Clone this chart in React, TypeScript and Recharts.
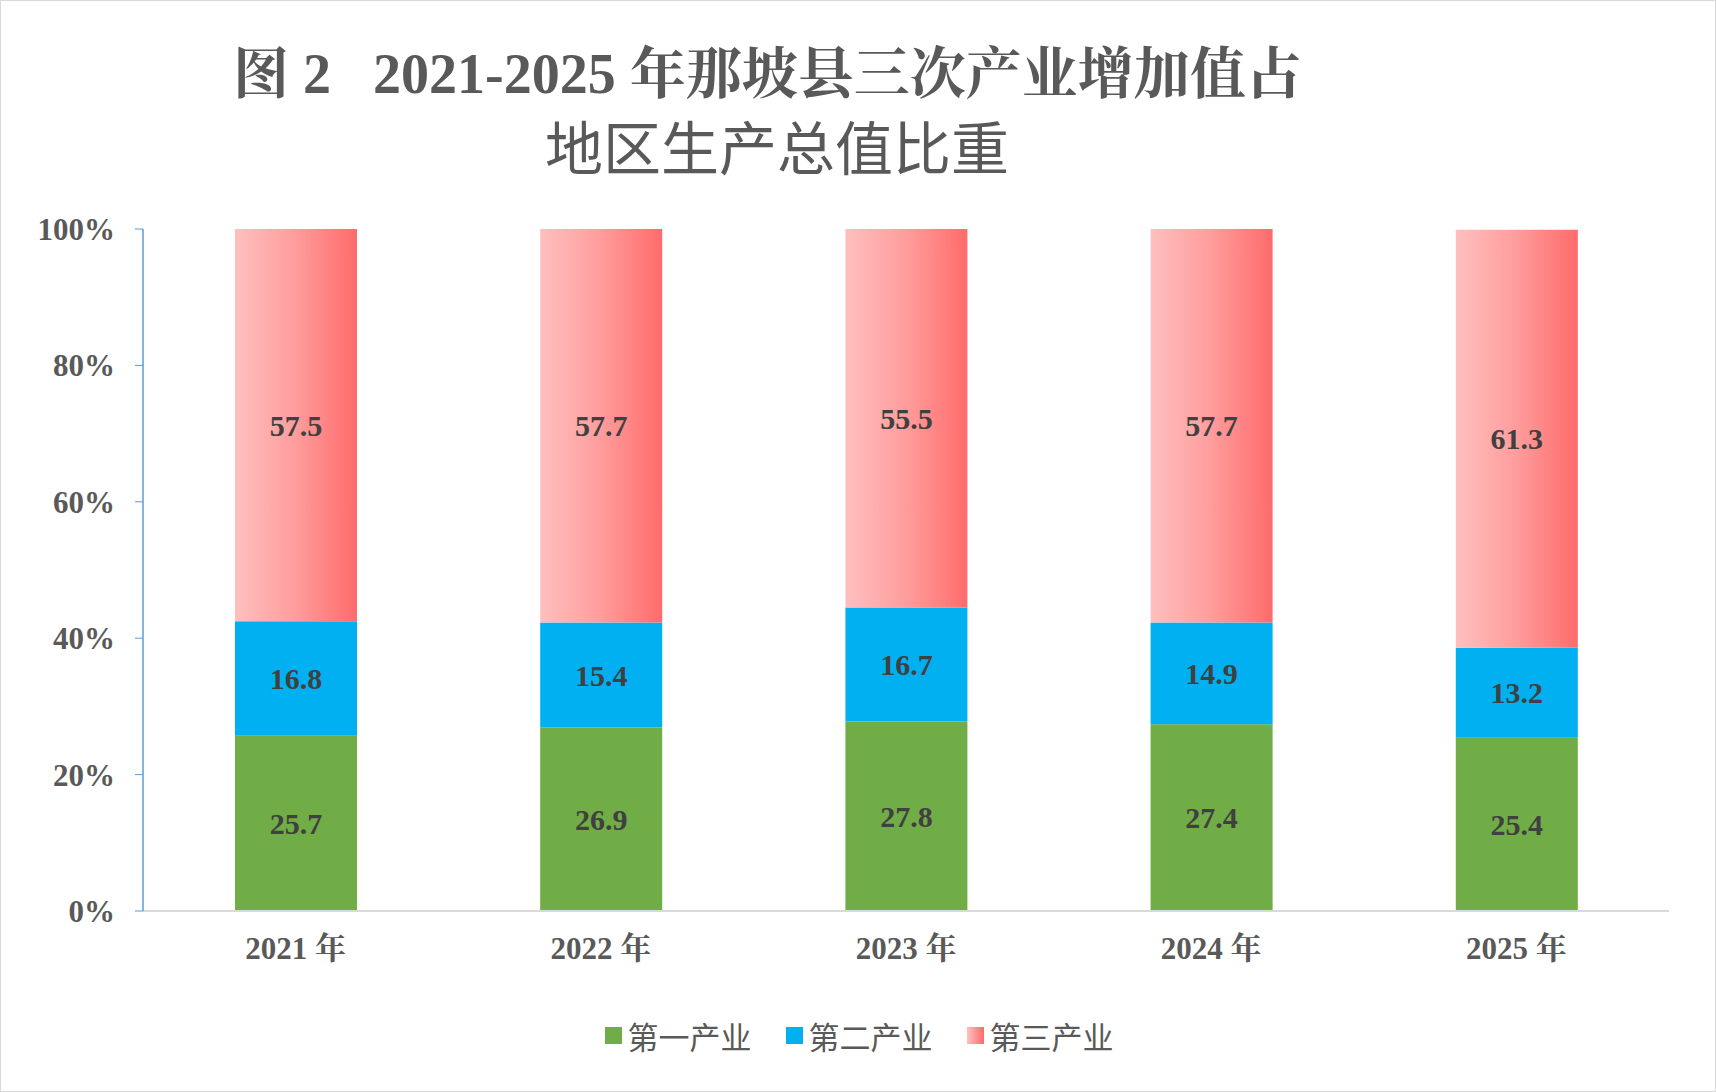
import { BarChart, Bar, XAxis, YAxis, LabelList } from 'recharts';

const years = ['2021 年', '2022 年', '2023 年', '2024 年', '2025 年'];
const primary = [25.7, 26.9, 27.8, 27.4, 25.4];
const secondary = [16.8, 15.4, 16.7, 14.9, 13.2];
const tertiary = [57.5, 57.7, 55.5, 57.7, 61.3];
const yTicks = [0, 20, 40, 60, 80, 100];

const data = years.map((year, i) => ({
  year,
  p: primary[i],
  s: secondary[i],
  t: tertiary[i],
}));

const font = '"Times New Roman", "Liberation Serif", "Noto Serif CJK SC", serif';
const labelStyle = { fill: '#404040', fontSize: 30, fontWeight: 'bold', fontFamily: font };

const legendItems = [
  { name: '第一产业', bg: '#70AD47' },
  { name: '第二产业', bg: '#00B0F0' },
  { name: '第三产业', bg: 'linear-gradient(to right, #FFBFBF, #FF6B6B)' },
];

export default function App() {
  return (
    <div style={{ position: 'absolute', left: 0, top: 0, width: 1714, height: 1090, border: '1px solid #d9d9d9', background: '#fff', fontFamily: font }}>
      <div style={{ position: 'absolute', left: 232, top: 28, fontSize: 56, fontWeight: 'bold', color: '#595959', fontFamily: font, whiteSpace: 'nowrap' }}>
        图 2&nbsp;&nbsp;&nbsp;2021-2025 年那坡县三次产业增加值占
      </div>
      <div style={{ position: 'absolute', left: 544, top: 102, fontSize: 58, color: '#595959', fontFamily: '"Noto Sans CJK SC", sans-serif', whiteSpace: 'nowrap' }}>
        地区生产总值比重
      </div>
      <BarChart
        width={1716}
        height={1092}
        data={data}
        margin={{ top: 228, right: 48, left: 0, bottom: 122 }}
      >
        <defs>
          <linearGradient id="redGrad" x1="0" y1="0" x2="1" y2="0">
            <stop offset="0%" stopColor="#FFBFBF" />
            <stop offset="50%" stopColor="#FF9C9C" />
            <stop offset="100%" stopColor="#FF6B6B" />
          </linearGradient>
        </defs>
        <XAxis
          dataKey="year"
          axisLine={{ stroke: '#d9d9d9', strokeWidth: 2 }}
          tickLine={false}
          tick={{ fill: '#595959', fontSize: 31, fontWeight: 'bold', fontFamily: font }}
          tickMargin={20}
          height={60}
        />
        <YAxis
          domain={[0, 100]}
          ticks={yTicks}
          allowDataOverflow
          width={142}
          tickFormatter={(v) => `${v}%`}
          axisLine={{ stroke: '#5B9BD5', strokeWidth: 1.5 }}
          tickLine={{ stroke: '#5B9BD5' }}
          tickSize={8}
          tickMargin={20}
          tick={{ fill: '#595959', fontSize: 31, fontWeight: 'bold', fontFamily: font }}
        />
        <Bar dataKey="p" stackId="a" fill="#70AD47" barSize={122} isAnimationActive={false}>
          <LabelList dataKey="p" position="center" style={labelStyle} />
        </Bar>
        <Bar dataKey="s" stackId="a" fill="#00B0F0" barSize={122} isAnimationActive={false}>
          <LabelList dataKey="s" position="center" style={labelStyle} />
        </Bar>
        <Bar dataKey="t" stackId="a" fill="url(#redGrad)" barSize={122} isAnimationActive={false}>
          <LabelList dataKey="t" position="center" style={labelStyle} />
        </Bar>
      </BarChart>
      <div style={{ position: 'absolute', top: 1012, left: 0, width: 1716, display: 'flex', justifyContent: 'center', gap: 34, fontFamily: '"Noto Sans CJK SC", sans-serif', fontSize: 31, color: '#595959' }}>
        {legendItems.map((it) => (
          <span key={it.name} style={{ display: 'flex', alignItems: 'center' }}>
            <span style={{ width: 17, height: 17, marginRight: 6, background: it.bg }} />
            {it.name}
          </span>
        ))}
      </div>
    </div>
  );
}
